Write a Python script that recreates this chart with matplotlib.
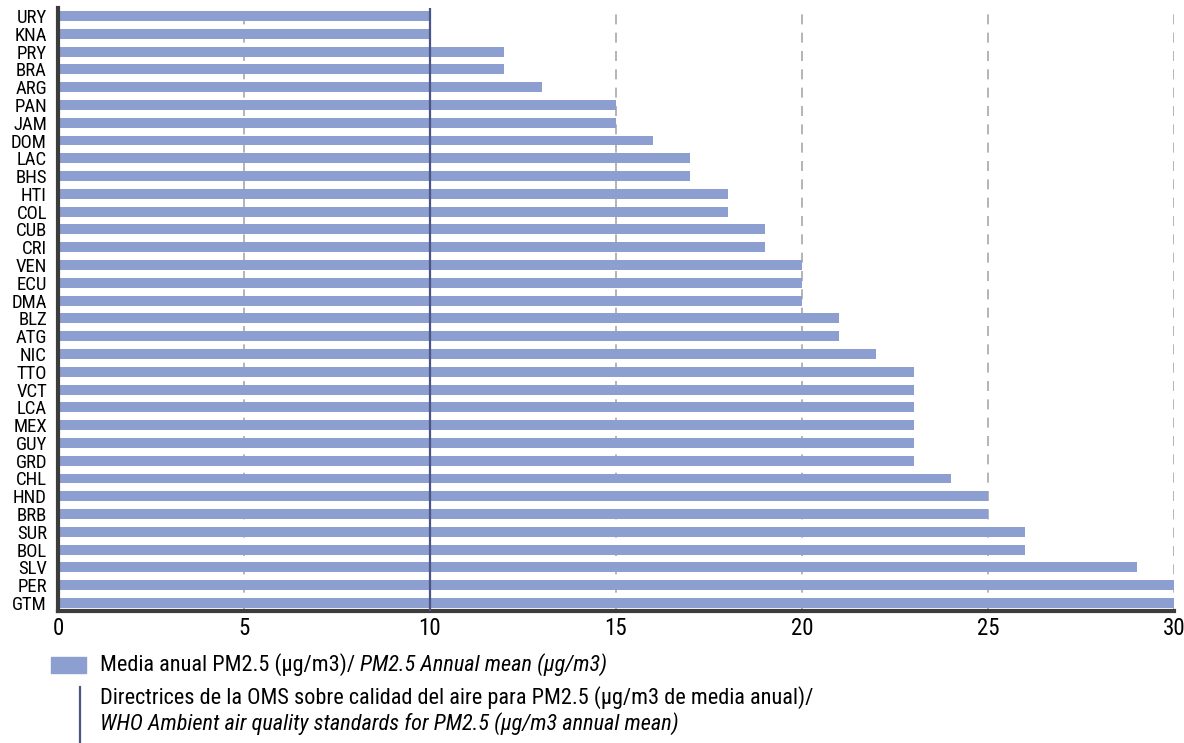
import matplotlib
matplotlib.use("Agg")
import matplotlib.pyplot as plt
from matplotlib import font_manager as fm
from matplotlib.patches import Rectangle
from matplotlib.lines import Line2D

# top to bottom, as shown in the chart
countries = ["URY", "KNA", "PRY", "BRA", "ARG", "PAN", "JAM", "DOM", "LAC", "BHS",
             "HTI", "COL", "CUB", "CRI", "VEN", "ECU", "DMA", "BLZ", "ATG", "NIC",
             "TTO", "VCT", "LCA", "MEX", "GUY", "GRD", "CHL", "HND", "BRB", "SUR",
             "BOL", "SLV", "PER", "GTM"]
pm25 = [10, 10, 12, 12, 13, 15, 15, 16, 17, 17,
        18, 18, 19, 19, 20, 20, 20, 21, 21, 22,
        23, 23, 23, 23, 23, 23, 24, 25, 25, 26,
        26, 29, 30, 30]
who_limit = 10
xticks = [0, 5, 10, 15, 20, 25, 30]

legend_bar = "Media anual PM2.5 (µg/m3)/ "
legend_bar_en = "PM2.5 Annual mean (µg/m3)"
legend_who = "Directrices de la OMS sobre calidad del aire para PM2.5 (µg/m3 de media anual)/"
legend_who_en = "WHO Ambient air quality standards for PM2.5 (µg/m3 annual mean)"

BAR_COLOR = "#8c9fd0"
WHO_COLOR = "#4a5688"
SPINE_COLOR = "#3c3c3c"


def pick_narrow_font():
    # look for any condensed / narrow face among the installed fonts
    found = []
    for f in fm.fontManager.ttflist:
        st = f.stretch
        narrow_name = any(w in f.name for w in ("Narrow", "Condensed", "Cond"))
        narrow_stretch = (isinstance(st, str) and "condensed" in st) or \
                         (isinstance(st, (int, float)) and st < 500)
        if narrow_name or narrow_stretch:
            found.append((f.name, st))
    prefs = ["Roboto Condensed", "Liberation Sans Narrow", "Open Sans Condensed",
             "Roboto", "Noto Sans", "Open Sans"]
    for p in prefs:
        for name, st in found:
            if name == p:
                return name, st
    if found:
        return found[0]
    return "Roboto", "normal"


family, stretch = pick_narrow_font()
plt.rcParams["font.family"] = [family, "DejaVu Sans"]
plt.rcParams["font.stretch"] = stretch

fig = plt.figure(figsize=(11.84, 7.43), dpi=100)
ax = fig.add_axes([58 / 1184, 1 - 611 / 743, (1174 - 58) / 1184, (611 - 8) / 743])

n = len(countries)
ypos = list(range(n - 1, -1, -1))
ax.barh(ypos, pm25, height=0.56, color=BAR_COLOR, zorder=2)
ax.axvline(who_limit, color=WHO_COLOR, lw=1.6, zorder=3)

ax.set_xlim(0, 30)
ax.set_ylim(-0.45, n - 0.55)
ax.set_yticks(ypos)
ax.set_yticklabels(countries, fontsize=13.5)
ax.set_xticks(xticks)
ax.set_xticklabels([str(t) for t in xticks], fontsize=16.5)
ax.tick_params(length=0)
ax.tick_params(axis="y", pad=8)
ax.tick_params(axis="x", pad=4)

for t in xticks[1:]:
    ax.axvline(t, color="#a8a8a8", lw=1.2, ls=(0, (6, 5)), zorder=1)

for side in ("top", "right"):
    ax.spines[side].set_visible(False)
for side in ("left", "bottom"):
    ax.spines[side].set_color(SPINE_COLOR)
    ax.spines[side].set_linewidth(3)

# legend drawn by hand in figure pixels
fig.patches.append(Rectangle((51 / 1184, 1 - 673 / 743), 35 / 1184, 16 / 743,
                             transform=fig.transFigure, color=BAR_COLOR))
fig.lines.append(Line2D([80 / 1184, 80 / 1184], [1 - 687 / 743, 1 - 743 / 743],
                        transform=fig.transFigure, color=WHO_COLOR, lw=1.6))

# scale legend font so the long line spans the same width as in the source
renderer = fig.canvas.get_renderer()
probe = fig.text(100 / 1184, 0.5, legend_who, fontsize=14)
w = probe.get_window_extent(renderer).width
probe.remove()
lsize = min(16, 14 * 717 / w)

t1 = fig.text(100 / 1184, 1 - 665 / 743, legend_bar, fontsize=lsize,
              va="center", ha="left")
x1 = t1.get_window_extent(renderer).x1
fig.text(x1 / 1184, 1 - 665 / 743, legend_bar_en, fontsize=lsize,
         va="center", ha="left", style="italic")
fig.text(100 / 1184, 1 - 698 / 743, legend_who, fontsize=lsize,
         va="center", ha="left")
fig.text(100 / 1184, 1 - 724 / 743, legend_who_en, fontsize=lsize,
         va="center", ha="left", style="italic")

fig.savefig("out.png", dpi=100)
